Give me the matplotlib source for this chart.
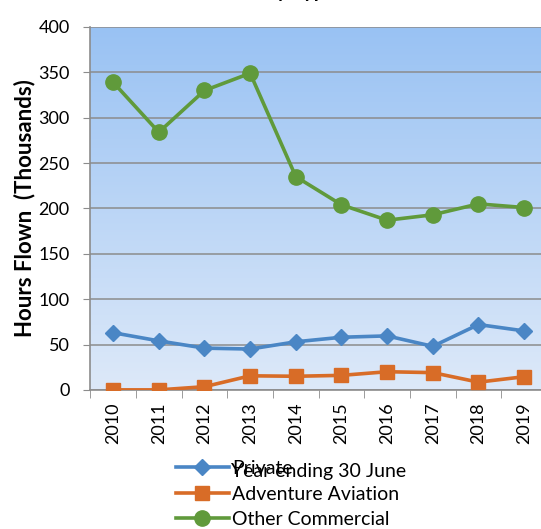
"""Hours flown by type - line chart"""
import numpy as np
import matplotlib
matplotlib.use("Agg")
import matplotlib.pyplot as plt
from matplotlib.colors import LinearSegmentedColormap

plt.rcParams["font.family"] = ["Lato", "DejaVu Sans"]

years = ["2010", "2011", "2012", "2013", "2014", "2015", "2016", "2017", "2018", "2019"]
private = [63, 54, 46, 45, 53, 58, 59.5, 48, 72, 65]
adventure = [0, 0, 3.5, 15.5, 15, 16, 20, 19, 8.5, 14.5]
other_commercial = [339, 284, 330, 349, 235, 204, 187, 193, 205, 201]

fig = plt.figure(figsize=(5.41, 5.29), dpi=100)
ax = fig.add_axes([0.167, 0.263, 0.844, 0.686])

# gradient plot background
grad = LinearSegmentedColormap.from_list("bg", ["#dde9f9", "#99c2f3"])
ax.imshow(np.linspace(0, 1, 256).reshape(-1, 1), cmap=grad, aspect="auto",
          origin="lower", extent=[0, 1, 0, 1], transform=ax.transAxes, zorder=0)

x = np.arange(len(years))
ax.plot(x, private, "D-", color="#4a86c5", lw=2.6, ms=8, label="Private", zorder=5)
ax.plot(x, adventure, "s-", color="#d86c27", lw=2.6, ms=10, label="Adventure Aviation", zorder=5)
ax.plot(x, other_commercial, "o-", color="#609a3b", lw=2.6, ms=11, label="Other Commercial", zorder=5)

ax.set_xlim(-0.5, len(years) - 0.5)
ax.set_ylim(0, 400)
ax.set_yticks(range(0, 401, 50))
ax.set_xticks(x)
ax.set_xticklabels(years, rotation=90, fontsize=13)
ax.set_xticks(np.arange(-0.5, len(years), 1), minor=True)
ax.tick_params(axis="x", which="major", length=0, pad=9)
ax.tick_params(axis="x", which="minor", length=6, color="#8c8c8c")
ax.tick_params(axis="y", length=5, color="#8c8c8c", labelsize=13, pad=10)
ax.grid(axis="y", color="#8c8c8c", lw=1.1, zorder=1)
ax.set_axisbelow(True)
for s in ["top", "right"]:
    ax.spines[s].set_visible(False)
for s in ["left", "bottom"]:
    ax.spines[s].set_color("#8c8c8c")
    ax.spines[s].set_linewidth(1.2)

ax.set_ylabel("Hours Flown  (Thousands)", fontsize=16, fontweight="bold", labelpad=2)
ax.set_xlabel("Year ending 30 June", fontsize=14, labelpad=14)

fig.legend(loc="upper left", bbox_to_anchor=(176 / 541, 1 - 460 / 529), frameon=False,
           fontsize=14, handlelength=2.7, handletextpad=0.2, labelspacing=0.44,
           borderpad=0, borderaxespad=0)

# title cut off at the top edge of the image
fig.text(335 / 541, 1 + 2 / 529, "Hours Flown by Type", ha="right", va="baseline",
         fontsize=14, fontweight="bold")

fig.savefig("out.png", dpi=100)
